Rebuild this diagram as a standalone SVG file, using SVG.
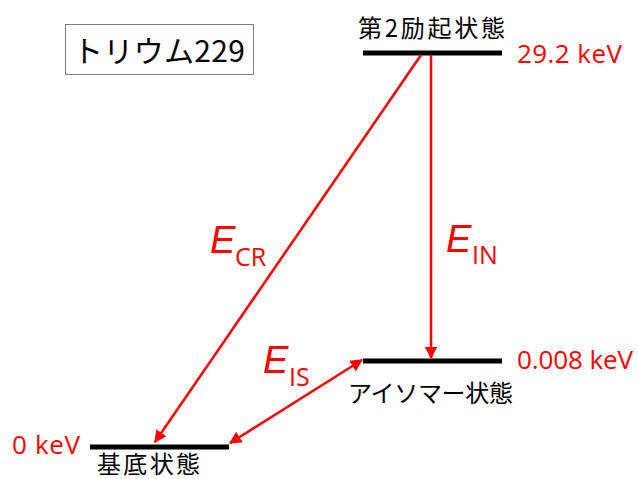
<svg xmlns="http://www.w3.org/2000/svg" width="638" height="479" viewBox="0 0 638 479">
<defs>
<style>
.jp{font-family:"Noto Sans CJK JP","Noto Sans",sans-serif;font-size:24px;fill:#000}
.red{font-family:"Open Sans","Liberation Sans",sans-serif;font-size:26px;fill:#FF0000}
.E{font-family:"Liberation Sans",sans-serif;font-style:italic;font-size:38px;fill:#FF0000}
.sub{font-family:"Open Sans","Liberation Sans",sans-serif;font-size:25px;fill:#FF0000}
.lvl{stroke:#000;stroke-width:5}
.arr{stroke:#FF0000;stroke-width:2.5;fill:none}
</style>
<marker id="ah" viewBox="0 0 10 10" refX="9" refY="5" markerWidth="5" markerHeight="5" orient="auto-start-reverse" markerUnits="strokeWidth">
<path d="M0,0 L10,5 L0,10 z" fill="#FF0000"/>
</marker>
</defs>
<rect width="638" height="479" fill="#fff"/>
<g id="title">
<rect x="65.5" y="24.5" width="188" height="50" fill="#fff" stroke="#7f7f7f" stroke-width="1"/>
<text x="73" y="62" font-family="Noto Sans CJK JP,sans-serif" font-size="30" fill="#000" textLength="172">トリウム229</text>
</g>
<g id="level-excited2">
<line class="lvl" x1="363" y1="53" x2="502" y2="53"/>
<text class="jp" x="358" y="37" textLength="147">第2励起状態</text>
<text class="red" x="517" y="63" textLength="105">29.2 keV</text>
</g>
<g id="level-isomer">
<line class="lvl" x1="363" y1="361" x2="502" y2="361"/>
<text class="jp" x="348" y="402" textLength="165">アイソマー状態</text>
<text class="red" x="517" y="369" textLength="116">0.008 keV</text>
</g>
<g id="level-ground">
<line class="lvl" x1="90" y1="447" x2="229" y2="447"/>
<text class="jp" x="97" y="473" textLength="103">基底状態</text>
<text class="red" x="12" y="454" textLength="68">0 keV</text>
</g>
<g id="connectors">
<line class="arr" x1="421" y1="55" x2="155" y2="442" marker-end="url(#ah)"/>
<line class="arr" x1="431" y1="55" x2="431" y2="358" marker-end="url(#ah)"/>
<line class="arr" x1="230" y1="443" x2="362" y2="360" marker-start="url(#ah)" marker-end="url(#ah)"/>
</g>
<g id="labels">
<text class="E" x="210" y="253">E</text><text class="sub" x="235" y="266">CR</text>
<text class="E" x="446" y="252">E</text><text class="sub" x="472" y="264">IN</text>
<text class="E" x="263" y="373">E</text><text class="sub" x="289" y="386">IS</text>
</g>
</svg>
